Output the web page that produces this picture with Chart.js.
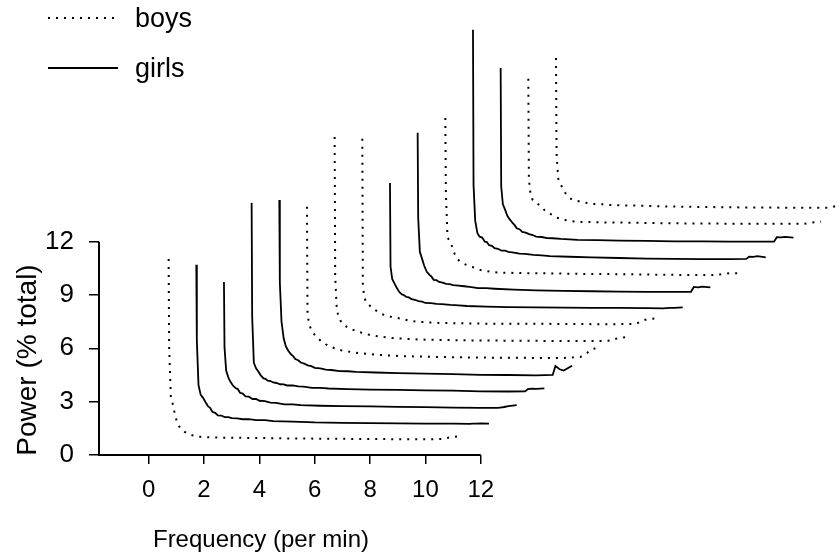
<!DOCTYPE html>
<html>
<head>
<meta charset="utf-8">
<title>Power spectra, boys and girls</title>
<script src="https://cdn.jsdelivr.net/npm/chart.js@4.4.1/dist/chart.umd.min.js"></script>
<style>
	html, body { margin: 0; padding: 0; background: #fff; }
	#spectraChart { display: block; }
</style>
</head>
<body>
<canvas id="spectraChart" width="839" height="555"></canvas>
<script>
(function() {
	'use strict';

	// Frequency bins shared by every spectrum (per min)
	var frequencies = [0.72, 0.74, 0.8, 0.88, 0.96, 1.05, 1.15, 1.22, 1.3, 1.4, 1.5, 1.62, 1.75, 1.88, 2.0, 2.2, 2.4, 2.6, 2.9, 3.2, 3.5, 4.2, 5.0, 6.0, 7.0, 8.0, 9.0, 10.0, 10.6, 10.7, 10.85, 11.0, 11.3];

	// Group of each trace, front (bottom left) to back (top right)
	var groups = ['boys', 'girls', 'girls', 'girls', 'girls', 'boys', 'boys', 'boys', 'girls', 'girls', 'boys', 'girls', 'girls', 'boys', 'boys'];

	// Waterfall offsets of each trace
	var xShift = [0, 1, 2, 3, 4, 5, 6, 7, 8, 9, 10, 11, 12, 13, 14];
	var yShift = [0, 0.93, 1.85, 2.78, 3.7, 4.63, 5.55, 6.48, 7.4, 8.33, 9.25, 10.18, 11.1, 12.03, 12.95];

	// Power (% total) of each trace
	var spectrum01 = [11.02, 6.0, 3.3, 2.8, 2.2, 1.72, 1.5, 1.4, 1.3, 1.22, 1.15, 1.09, 1.04, 1.02, 1.01, 1.0, 0.99, 0.98, 0.97, 0.97, 0.96, 0.95, 0.93, 0.92, 0.91, 0.9, 0.89, 0.88, 0.9, 0.92, 0.98, 1.02, 1.05];
	var spectrum02 = [9.77, 5.5, 3.0, 2.45, 2.3, 2.05, 1.8, 1.72, 1.5, 1.44, 1.3, 1.29, 1.2, 1.2, 1.14, 1.13, 1.08, 1.09, 1.03, 1.03, 0.98, 0.95, 0.9, 0.88, 0.86, 0.85, 0.83, 0.84, 0.82, 0.84, 0.83, 0.85, 0.84];
	var spectrum03 = [7.88, 4.2, 2.9, 2.5, 2.25, 2.05, 1.9, 1.86, 1.65, 1.6, 1.45, 1.43, 1.3, 1.3, 1.2, 1.18, 1.1, 1.08, 1.0, 1.0, 0.95, 0.92, 0.9, 0.88, 0.86, 0.84, 0.82, 0.8, 0.8, 0.82, 0.85, 0.9, 0.95];
	var spectrum04 = [11.4, 5.0, 2.4, 2.1, 1.92, 1.7, 1.53, 1.5, 1.4, 1.38, 1.3, 1.27, 1.2, 1.19, 1.13, 1.13, 1.08, 1.06, 1.0, 1.0, 0.96, 0.93, 0.9, 0.88, 0.86, 0.84, 0.8, 0.79, 0.8, 0.92, 0.95, 0.94, 0.97];
	var spectrum05 = [10.64, 6.0, 3.8, 2.85, 2.4, 2.15, 1.95, 1.86, 1.7, 1.63, 1.5, 1.44, 1.34, 1.3, 1.2, 1.17, 1.1, 1.08, 1.02, 1.01, 0.98, 0.94, 0.91, 0.88, 0.85, 0.81, 0.8, 0.78, 0.8, 1.3, 1.12, 1.05, 1.32];
	var spectrum06 = [9.33, 3.3, 2.7, 2.4, 2.2, 2.05, 1.88, 1.8, 1.72, 1.6, 1.5, 1.43, 1.36, 1.3, 1.24, 1.19, 1.14, 1.1, 1.06, 1.02, 0.98, 0.93, 0.9, 0.87, 0.85, 0.84, 0.83, 0.83, 0.88, 0.98, 1.12, 1.3, 1.45];
	var spectrum07 = [12.34, 4.5, 2.55, 2.2, 1.9, 1.8, 1.66, 1.6, 1.54, 1.48, 1.42, 1.36, 1.3, 1.25, 1.2, 1.15, 1.1, 1.06, 1.02, 0.99, 0.96, 0.93, 0.91, 0.89, 0.88, 0.87, 0.86, 0.86, 0.87, 0.9, 0.97, 1.04, 1.08];
	var spectrum08 = [11.3, 3.0, 2.35, 2.05, 1.95, 1.85, 1.72, 1.64, 1.56, 1.48, 1.4, 1.35, 1.3, 1.26, 1.22, 1.15, 1.08, 1.04, 1.0, 0.97, 0.95, 0.93, 0.91, 0.9, 0.9, 0.89, 0.88, 0.88, 0.89, 0.96, 1.08, 1.15, 1.2];
	var spectrum09 = [7.9, 3.2, 2.5, 2.25, 2.02, 1.78, 1.63, 1.6, 1.5, 1.46, 1.37, 1.33, 1.25, 1.22, 1.15, 1.14, 1.1, 1.08, 1.04, 1.02, 0.98, 0.94, 0.92, 0.9, 0.89, 0.88, 0.87, 0.86, 0.85, 0.86, 0.88, 0.87, 0.9];
	var spectrum10 = [9.79, 5.0, 3.1, 2.7, 2.3, 1.97, 1.8, 1.7, 1.52, 1.5, 1.4, 1.37, 1.3, 1.28, 1.22, 1.2, 1.16, 1.12, 1.06, 1.05, 1.02, 0.97, 0.93, 0.9, 0.88, 0.86, 0.85, 0.85, 0.85, 1.12, 1.1, 1.14, 1.1];
	var spectrum11 = [9.7, 5.5, 3.0, 2.75, 2.5, 2.09, 1.8, 1.68, 1.58, 1.5, 1.43, 1.36, 1.3, 1.22, 1.15, 1.1, 1.05, 1.02, 1.0, 0.99, 0.98, 0.97, 0.95, 0.93, 0.92, 0.9, 0.88, 0.87, 0.88, 0.93, 0.96, 0.97, 0.98];
	var spectrum12 = [13.73, 5.0, 3.0, 2.3, 2.1, 2.05, 1.82, 1.8, 1.62, 1.58, 1.45, 1.42, 1.32, 1.31, 1.25, 1.2, 1.15, 1.13, 1.07, 1.05, 1.01, 0.97, 0.94, 0.9, 0.87, 0.85, 0.84, 0.84, 0.85, 0.98, 0.96, 1.0, 0.94];
	var spectrum13 = [10.67, 4.0, 3.0, 2.7, 2.35, 2.15, 1.95, 1.84, 1.65, 1.6, 1.45, 1.41, 1.32, 1.27, 1.18, 1.16, 1.1, 1.09, 1.05, 1.03, 1.0, 0.98, 0.96, 0.94, 0.92, 0.91, 0.9, 0.9, 0.9, 1.15, 1.14, 1.17, 1.13];
	var spectrum14 = [9.13, 3.5, 2.6, 2.3, 2.2, 2.1, 2.0, 1.88, 1.75, 1.65, 1.55, 1.43, 1.32, 1.26, 1.2, 1.15, 1.1, 1.08, 1.07, 1.06, 1.05, 1.04, 1.02, 1.0, 0.99, 0.98, 0.98, 0.98, 0.97, 0.98, 1.0, 1.05, 1.1];
	var spectrum15 = [9.38, 4.0, 2.6, 2.3, 2.05, 1.8, 1.6, 1.5, 1.42, 1.37, 1.33, 1.29, 1.25, 1.21, 1.18, 1.16, 1.15, 1.12, 1.1, 1.09, 1.08, 1.05, 1.02, 1.0, 0.98, 0.97, 0.96, 0.95, 0.96, 1.0, 1.05, 1.08, 1.1];

	// Tick labels
	var xTicks = [0, 2, 4, 6, 8, 10, 12];
	var yTicks = [0, 3, 6, 9, 12];

	var FONT = 'Arial, "Liberation Sans", Helvetica, sans-serif';

	var spectraChart = {
		chart: null,

		/**
		 * Initialize chart
		 */
		init: function() {
			Chart.defaults.font.family = FONT;
			Chart.defaults.color = '#000';

			var ctx = document.getElementById('spectraChart');
			this.chart = new Chart(ctx, {
				type: 'line',
				data: { datasets: this.buildDatasets() },
				options: {
					responsive: false,
					animation: false,
					devicePixelRatio: 1,
					events: [],
					layout: { padding: 0 },
					plugins: {
						legend: { display: false },
						tooltip: { enabled: false }
					},
					scales: {
						x: {
							type: 'linear',
							min: -1.796,
							max: 24.948,
							border: { display: false },
							grid: {
								drawOnChartArea: false,
								tickLength: 9,
								color: '#000',
								lineWidth: 1.5
							},
							ticks: {
								font: { size: 24 },
								padding: 12
							},
							afterBuildTicks: function(scale) {
								scale.ticks = xTicks.map(function(v) { return { value: v }; });
							},
							afterFit: function(scale) {
								scale.height = 100;
								scale.paddingLeft = 0;
								scale.paddingRight = 0;
							}
						},
						y: {
							min: 0,
							max: 25.59,
							border: { display: false },
							grid: {
								drawOnChartArea: false,
								tickLength: 10,
								color: '#000',
								lineWidth: 1.5
							},
							ticks: {
								font: { size: 26 },
								padding: 15
							},
							afterBuildTicks: function(scale) {
								scale.ticks = yTicks.map(function(v) { return { value: v }; });
							},
							afterFit: function(scale) {
								scale.width = 99;
								scale.paddingTop = 0;
								scale.paddingBottom = 0;
							}
						}
					}
				},
				plugins: [this.axesPlugin]
			});
		},

		/**
		 * One dataset per trace, offset into the waterfall
		 */
		buildDatasets: function() {
			var spectra = [spectrum01, spectrum02, spectrum03, spectrum04, spectrum05,
				spectrum06, spectrum07, spectrum08, spectrum09, spectrum10,
				spectrum11, spectrum12, spectrum13, spectrum14, spectrum15];

			return spectra.map(function(values, k) {
				var isBoys = groups[k] === 'boys';
				return {
					label: groups[k],
					data: values.map(function(v, i) {
						return { x: frequencies[i] + xShift[k], y: v + yShift[k] };
					}),
					borderColor: '#000',
					borderWidth: isBoys ? 2 : 1.8,
					borderDash: isBoys ? [2, 6] : [],
					pointRadius: 0,
					fill: false,
					tension: 0
				};
			});
		},

		/**
		 * Axis lines (only over the tick range), titles and legend
		 */
		axesPlugin: {
			id: 'waterfallAxes',
			afterDraw: function(chart) {
				var c = chart.ctx;
				var sx = chart.scales.x;
				var sy = chart.scales.y;
				var left = chart.chartArea.left;
				var yZero = sy.getPixelForValue(yTicks[0]);

				c.save();
				c.strokeStyle = '#000';
				c.lineWidth = 2;
				c.beginPath();
				c.moveTo(left, sy.getPixelForValue(yTicks[yTicks.length - 1]));
				c.lineTo(left, yZero);
				c.lineTo(sx.getPixelForValue(xTicks[xTicks.length - 1]), yZero);
				c.stroke();

				c.fillStyle = '#000';
				c.textAlign = 'center';
				c.textBaseline = 'alphabetic';
				c.font = '24px ' + FONT;
				c.fillText('Frequency (per min)', 261, 547);

				c.save();
				c.translate(36, 360);
				c.rotate(-Math.PI / 2);
				c.font = '28px ' + FONT;
				c.fillText('Power (% total)', 0, 0);
				c.restore();

				// legend
				c.lineWidth = 2;
				c.setLineDash([2, 6]);
				c.beginPath();
				c.moveTo(48, 18);
				c.lineTo(114, 18);
				c.stroke();
				c.setLineDash([]);
				c.lineWidth = 1.8;
				c.beginPath();
				c.moveTo(48, 68);
				c.lineTo(118, 68);
				c.stroke();

				c.textAlign = 'left';
				c.font = '27px ' + FONT;
				c.fillText('boys', 135, 27);
				c.fillText('girls', 135, 77);
				c.restore();
			}
		}
	};

	spectraChart.init();
})();
</script>
</body>
</html>
